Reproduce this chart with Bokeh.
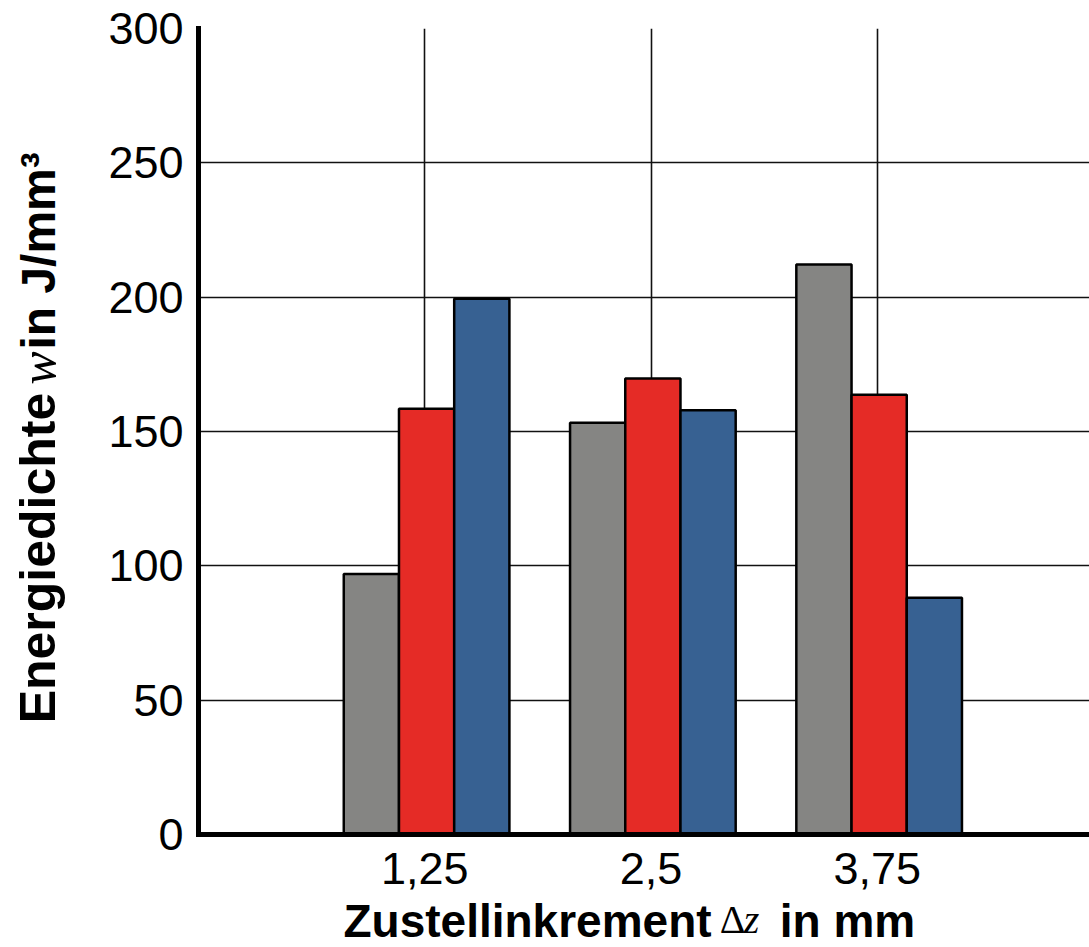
import math

from bokeh.embed import file_html
from bokeh.layouts import column, row
from bokeh.models import FixedTicker, Label, Range1d
from bokeh.plotting import figure
from bokeh.resources import INLINE

# Zustellinkrement (mm) and the three measured series of energy density (J/mm³)
zustellung = [1.25, 2.5, 3.75]
zustellung_labels = ["1,25", "2,5", "3,75"]
serie_grau = [97.0, 153.3, 212.2]
serie_rot = [158.5, 169.7, 163.7]
serie_blau = [199.4, 157.9, 88.1]

y_ticks = [0, 50, 100, 150, 200, 250, 300]

farben = ["#858583", "#e52b26", "#376192"]
bar_width = 0.305
group_shift = 0.01

X_END = 4.922
Y_END = 300

# overall canvas 1089 x 947: a strip on the left for the y title,
# a strip at the bottom for the x title, the chart itself in between
TOTAL_W, TOTAL_H = 1089, 947
YT_W = 80          # width of the y-title strip
XT_H = 52          # height of the x-title strip
MAIN_W = TOTAL_W - YT_W
MAIN_H = TOTAL_H - XT_H

p = figure(
    width=MAIN_W,
    height=MAIN_H,
    x_range=Range1d(0, X_END),
    y_range=Range1d(0, Y_END),
    output_backend="svg",
    toolbar_location=None,
    title_location=None,
    min_border_left=198 - YT_W,
    min_border_right=0,
    min_border_top=28,
    min_border_bottom=MAIN_H - 834,
    background_fill_color="white",
    border_fill_color="white",
)
p.outline_line_color = None

# grouped bars
for i, (werte, farbe) in enumerate(zip([serie_grau, serie_rot, serie_blau], farben)):
    xs = [z + group_shift + (i - 1) * bar_width for z in zustellung]
    p.vbar(
        x=xs,
        top=werte,
        bottom=0,
        width=bar_width,
        fill_color=farbe,
        line_color="black",
        line_width=2.5,
    )

# grid
p.xgrid.ticker = FixedTicker(ticks=zustellung)
p.ygrid.ticker = FixedTicker(ticks=y_ticks)
for g in (p.xgrid, p.ygrid):
    g.grid_line_color = "#111111"
    g.grid_line_width = 1.6

# axes
tick_font = "Liberation Sans"
p.xaxis.ticker = FixedTicker(ticks=zustellung)
p.xaxis.major_label_overrides = dict(zip(zustellung, zustellung_labels))
p.yaxis.ticker = FixedTicker(ticks=y_ticks)
for ax in (p.xaxis, p.yaxis):
    ax.axis_line_color = "black"
    ax.axis_line_width = 5
    ax.axis_line_cap = "square"
    ax.major_tick_line_color = None
    ax.minor_tick_line_color = None
    ax.major_tick_out = 0
    ax.major_tick_in = 0
    ax.major_label_text_font = tick_font
    ax.major_label_text_font_size = "45px"
    ax.major_label_text_color = "black"
p.xaxis.major_label_standoff = 18
p.yaxis.major_label_standoff = 15


def title_strip(w, h):
    """Blank figure whose data units equal pixels (origin bottom-left)."""
    f = figure(
        width=w,
        height=h,
        x_range=Range1d(0, w),
        y_range=Range1d(0, h),
        output_backend="svg",
        toolbar_location=None,
        title_location=None,
        x_axis_location=None,
        y_axis_location=None,
        min_border=0,
        background_fill_color="white",
        border_fill_color="white",
    )
    f.outline_line_color = None
    f.grid.visible = False
    return f


def piece(x, y, text, size, font="Liberation Sans", style="bold", angle=0.0):
    return Label(x=x, y=y, text=text, angle=angle, text_align="center",
                 text_baseline="middle", text_font=font, text_font_style=style,
                 text_font_size=size, text_color="black")


# y-axis title: Energiedichte w in J/mm³ (rotated, reading upward)
ytitle = title_strip(YT_W, MAIN_H)
ymid = 37
up = math.pi / 2
ytitle.add_layout(piece(ymid, MAIN_H - 588, "Energiedichte", "50px", angle=up))
ytitle.add_layout(piece(ymid, MAIN_H - 377, "w", "50px", font="Liberation Serif",
                        style="italic", angle=up))
ytitle.add_layout(piece(ymid + 1, MAIN_H - 247, "in J/mm³", "48px", angle=up))

# x-axis title: Zustellinkrement Δz in mm
xtitle = title_strip(TOTAL_W, XT_H)
xmid = TOTAL_H - 920
xtitle.add_layout(piece(527, xmid, "Zustellinkrement", "46px"))
xtitle.add_layout(piece(732, xmid + 1, "Δ", "40px", font="Liberation Serif", style="normal"))
xtitle.add_layout(piece(751, xmid + 1, "z", "40px", font="Liberation Serif", style="italic"))
xtitle.add_layout(piece(847, xmid, "in mm", "46px"))

layout = column(row(ytitle, p, spacing=0), xtitle, spacing=0)

open("out.html", "w").write(file_html(layout, INLINE))
